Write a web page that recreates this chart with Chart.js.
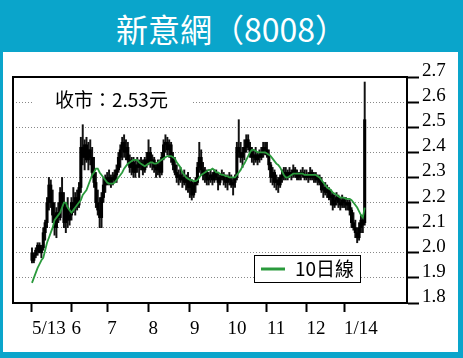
<!DOCTYPE html>
<html><head><meta charset="utf-8">
<script src="https://cdn.jsdelivr.net/npm/chart.js@4"></script>
<style>
html,body{margin:0;padding:0;}
body{width:463px;height:358px;background:#0aa5cb;position:relative;overflow:hidden;}
#panel{position:absolute;left:3px;top:52px;width:455px;height:300px;background:#fff;}
#title{position:absolute;left:0;top:6px;width:463px;text-align:center;color:#fff;font-size:32px;font-family:"Noto Sans CJK TC","Noto Sans";line-height:44px;}
canvas{position:absolute;left:0;top:0;}
</style></head><body>
<div id="panel"></div><div id="title">新意網（8008）</div>
<canvas id="c" width="463" height="358"></canvas>
<script>
// trading-day index 0 = early May 2013
const monthTickIdx = [0,21,40,62,84,104,125,146,166];
const monthLabels = ['5/13','6','7','8','9','10','11','12','1/14'];
const yTickVals = [1.8,1.9,2.0,2.1,2.2,2.3,2.4,2.5,2.6,2.7];
const closeLabel = '收市：2.53元';
const legendLabel = '10日線';

const open = [
2.00,1.97,1.99,2.01,2.03,2.00,2.02,2.08,2.12,2.20,2.27,2.20,2.15,2.10,2.16,2.14,2.24,2.20,2.12,2.18,2.13,
2.15,2.20,2.18,2.22,2.19,2.26,2.42,2.38,2.43,2.37,2.41,2.38,2.32,2.28,2.20,2.17,2.14,2.22,2.27,
2.29,2.30,2.28,2.30,2.29,2.31,2.33,2.38,2.41,2.44,2.40,2.42,2.37,2.34,2.36,2.32,2.35,2.34,2.36,2.35,2.33,2.37,
2.36,2.40,2.36,2.37,2.34,2.33,2.35,2.32,2.38,2.43,2.44,2.41,2.43,2.38,2.35,2.32,2.30,2.31,2.29,2.30,2.28,2.29,
2.26,2.28,2.23,2.27,2.28,2.34,2.38,2.33,2.31,2.32,2.29,2.30,2.31,2.29,2.32,2.30,2.28,2.30,2.31,2.29,
2.28,2.30,2.29,2.27,2.28,2.30,2.42,2.40,2.38,2.40,2.42,2.45,2.42,2.40,2.38,2.39,2.37,2.39,2.38,2.40,2.42,
2.41,2.39,2.35,2.30,2.32,2.28,2.29,2.27,2.30,2.31,2.32,2.30,2.32,2.31,2.32,2.33,2.31,2.30,2.31,2.32,2.31,
2.30,2.31,2.30,2.32,2.30,2.31,2.29,2.30,2.28,2.25,2.26,2.24,2.25,2.22,2.23,2.19,2.21,2.22,2.20,2.19,
2.21,2.20,2.19,2.20,2.17,2.12,2.10,2.08,2.06,2.10,2.13,2.12];
const high = [
2.02,2.00,2.02,2.04,2.04,2.03,2.10,2.13,2.22,2.30,2.29,2.25,2.20,2.18,2.20,2.26,2.30,2.24,2.20,2.22,2.17,
2.22,2.26,2.24,2.25,2.28,2.46,2.51,2.45,2.46,2.44,2.45,2.42,2.38,2.32,2.25,2.22,2.24,2.30,2.31,
2.32,2.33,2.31,2.32,2.33,2.35,2.40,2.43,2.46,2.47,2.45,2.44,2.39,2.38,2.38,2.37,2.38,2.37,2.38,2.37,2.38,2.40,
2.45,2.42,2.39,2.38,2.36,2.37,2.37,2.40,2.45,2.47,2.46,2.45,2.44,2.40,2.38,2.35,2.33,2.34,2.32,2.33,2.31,2.32,
2.30,2.29,2.28,2.30,2.36,2.44,2.41,2.36,2.34,2.33,2.32,2.33,2.32,2.33,2.33,2.32,2.31,2.33,2.32,2.31,
2.31,2.32,2.31,2.30,2.31,2.44,2.53,2.44,2.42,2.45,2.47,2.47,2.44,2.42,2.41,2.42,2.40,2.41,2.42,2.44,2.44,
2.44,2.41,2.36,2.34,2.33,2.31,2.30,2.31,2.33,2.34,2.34,2.33,2.34,2.33,2.35,2.34,2.33,2.32,2.33,2.34,2.33,
2.33,2.32,2.34,2.33,2.32,2.32,2.31,2.31,2.30,2.28,2.28,2.27,2.26,2.25,2.24,2.23,2.24,2.23,2.22,2.23,
2.22,2.22,2.21,2.21,2.18,2.16,2.13,2.10,2.12,2.15,2.15,2.68];
const low = [
1.96,1.96,1.98,1.99,2.00,1.98,2.01,2.05,2.10,2.17,2.18,2.12,2.07,2.06,2.12,2.13,2.18,2.10,2.08,2.10,2.11,
2.13,2.16,2.15,2.17,2.18,2.24,2.35,2.33,2.36,2.33,2.35,2.30,2.26,2.18,2.15,2.10,2.10,2.20,2.24,
2.27,2.27,2.26,2.27,2.28,2.28,2.32,2.34,2.37,2.38,2.37,2.35,2.32,2.31,2.30,2.30,2.32,2.30,2.33,2.31,2.32,2.34,
2.35,2.34,2.33,2.32,2.30,2.31,2.30,2.31,2.37,2.40,2.39,2.38,2.36,2.33,2.31,2.28,2.27,2.28,2.26,2.27,2.25,2.24,
2.22,2.21,2.22,2.24,2.27,2.32,2.31,2.29,2.28,2.27,2.27,2.28,2.27,2.28,2.29,2.25,2.27,2.29,2.27,2.26,
2.25,2.27,2.26,2.23,2.26,2.29,2.38,2.36,2.34,2.37,2.40,2.41,2.38,2.36,2.35,2.36,2.35,2.36,2.37,2.38,2.39,
2.38,2.33,2.28,2.27,2.26,2.25,2.24,2.26,2.28,2.29,2.29,2.29,2.30,2.29,2.30,2.30,2.29,2.29,2.29,2.30,2.29,
2.29,2.28,2.29,2.29,2.28,2.28,2.27,2.27,2.24,2.22,2.23,2.22,2.21,2.19,2.17,2.18,2.19,2.18,2.17,2.18,
2.18,2.17,2.17,2.15,2.10,2.09,2.06,2.04,2.05,2.08,2.08,2.11];
const close = [
1.97,1.99,2.01,2.03,2.00,2.02,2.08,2.12,2.20,2.27,2.20,2.15,2.10,2.16,2.14,2.24,2.20,2.12,2.18,2.13,2.15,
2.20,2.18,2.22,2.19,2.26,2.42,2.38,2.43,2.37,2.41,2.38,2.32,2.28,2.20,2.17,2.14,2.22,2.27,2.29,
2.30,2.28,2.30,2.29,2.31,2.33,2.38,2.41,2.44,2.40,2.42,2.37,2.34,2.36,2.32,2.35,2.34,2.36,2.35,2.33,2.37,2.36,
2.40,2.36,2.37,2.34,2.33,2.35,2.32,2.38,2.43,2.44,2.41,2.43,2.38,2.35,2.32,2.30,2.31,2.29,2.30,2.28,2.29,2.26,
2.28,2.23,2.27,2.28,2.34,2.38,2.33,2.31,2.32,2.29,2.30,2.31,2.29,2.32,2.30,2.28,2.30,2.31,2.29,2.28,
2.30,2.29,2.27,2.28,2.30,2.42,2.40,2.38,2.40,2.42,2.45,2.42,2.40,2.38,2.39,2.37,2.39,2.38,2.40,2.42,2.41,
2.39,2.35,2.30,2.32,2.28,2.29,2.27,2.30,2.31,2.32,2.30,2.32,2.31,2.32,2.33,2.31,2.30,2.31,2.32,2.31,2.30,
2.31,2.30,2.32,2.30,2.31,2.29,2.30,2.28,2.25,2.26,2.24,2.25,2.22,2.23,2.19,2.21,2.22,2.20,2.19,2.21,
2.20,2.19,2.20,2.17,2.12,2.10,2.08,2.06,2.10,2.13,2.11,2.53];
const ma10 = [
1.88,1.90,1.92,1.94,1.955,1.97,1.98,2.01,2.04,2.06,2.08,2.10,2.13,2.14,2.15,2.16,2.18,2.20,2.20,2.18,2.17,
2.16,2.17,2.18,2.19,2.20,2.21,2.23,2.24,2.25,2.27,2.29,2.31,2.32,2.335,2.335,2.32,2.31,2.30,2.29,
2.28,2.275,2.275,2.275,2.28,2.29,2.30,2.31,2.32,2.335,2.345,2.355,2.36,2.365,2.37,2.37,2.37,2.36,2.355,2.35,2.345,2.35,
2.355,2.36,2.36,2.355,2.355,2.36,2.365,2.37,2.375,2.38,2.385,2.385,2.385,2.38,2.375,2.36,2.35,2.34,2.32,2.31,2.30,2.295,
2.29,2.29,2.285,2.285,2.29,2.30,2.31,2.315,2.32,2.325,2.33,2.33,2.335,2.33,2.32,2.32,2.315,2.31,2.31,2.305,
2.305,2.30,2.30,2.30,2.30,2.31,2.32,2.33,2.345,2.355,2.37,2.385,2.40,2.41,2.41,2.405,2.40,2.40,2.40,2.40,2.40,
2.395,2.39,2.385,2.375,2.365,2.355,2.35,2.34,2.325,2.31,2.30,2.30,2.305,2.31,2.315,2.315,2.315,2.315,2.315,2.315,2.31,
2.31,2.31,2.31,2.31,2.31,2.31,2.305,2.30,2.29,2.28,2.27,2.26,2.255,2.25,2.24,2.235,2.23,2.225,2.22,2.22,
2.22,2.215,2.215,2.215,2.21,2.20,2.19,2.18,2.165,2.15,2.14,2.18];

const GREEN = '#2a9a3c';

const decor = {
  id: 'decor',
  beforeDatasetsDraw(chart) {
    const ctx = chart.ctx;
    ctx.save();
    ctx.fillStyle = '#fff';
    ctx.fillRect(33, 89, 160, 24);
    ctx.fillStyle = '#000';
    ctx.font = '19px "Noto Sans CJK TC"';
    ctx.textBaseline = 'middle';
    ctx.textAlign = 'left';
    ctx.fillText(closeLabel, 55, 100);
    ctx.restore();
  },
  afterDatasetsDraw(chart) {
    const ctx = chart.ctx;
    ctx.save();
    ctx.fillStyle = '#fff';
    ctx.fillRect(254, 255, 106, 27);
    ctx.strokeStyle = '#000';
    ctx.lineWidth = 1;
    ctx.strokeRect(254.5, 255.5, 106, 27);
    ctx.strokeStyle = GREEN;
    ctx.lineWidth = 3;
    ctx.beginPath();
    ctx.moveTo(261, 269);
    ctx.lineTo(285, 269);
    ctx.stroke();
    ctx.fillStyle = '#000';
    ctx.font = '19px "Noto Sans CJK TC"';
    ctx.textBaseline = 'middle';
    ctx.fillText(legendLabel, 295, 269);
    ctx.restore();
  },
  afterDraw(chart) {
    const ctx = chart.ctx, a = chart.chartArea;
    ctx.save();
    ctx.strokeStyle = '#000';
    ctx.lineWidth = 2;
    ctx.beginPath();
    ctx.moveTo(a.left, a.bottom);
    ctx.lineTo(a.left, a.top);
    ctx.lineTo(a.right, a.top);
    ctx.stroke();
    ctx.restore();
  }
};

new Chart(document.getElementById('c'), {
  type: 'bar',
  data: {
    datasets: [
      { type: 'line', data: ma10.map((v, i) => ({x: i, y: v})), borderColor: GREEN, borderWidth: 1.8,
        pointRadius: 0, fill: false, order: 0 },
      { type: 'bar', data: high.map((h, i) => ({x: i, y: [low[i], h]})), backgroundColor: '#111',
        barThickness: 1.3, grouped: false, order: 2 },
      { type: 'bar', data: open.map((o, i) => ({x: i, y: [o, close[i]]})), backgroundColor: '#000',
        barThickness: 2.4, grouped: false, order: 1, minBarLength: 1 }
    ]
  },
  options: {
    responsive: false, animation: false, devicePixelRatio: 1,
    layout: { padding: { left: 13, top: 77, right: 0, bottom: 0 } },
    plugins: { legend: { display: false }, tooltip: { enabled: false } },
    scales: {
      x: {
        type: 'linear', min: -10.1, max: 199.5, offset: false,
        afterBuildTicks: a => { a.ticks = monthTickIdx.map(v => ({value: v})); },
        afterFit: s => { s.height = 55; },
        grid: { display: true, drawOnChartArea: false, drawTicks: true, tickLength: 9,
                tickColor: '#000', tickWidth: 2, offset: false },
        border: { display: true, color: '#000', width: 2 },
        ticks: { autoSkip: false, maxRotation: 0, minRotation: 0, align: 'start', padding: 6, color: '#000',
                 font: { family: '"Liberation Serif"', size: 19 },
                 callback: (v, i) => monthLabels[i] }
      },
      y: {
        type: 'linear', position: 'right', min: 1.8, max: 2.7,
        afterBuildTicks: a => { a.ticks = yTickVals.map(v => ({value: v})); },
        afterFit: s => { s.width = 56; },
        grid: { color: '#888', lineWidth: 1, tickLength: 12, tickColor: '#000', tickWidth: 2, tickBorderDash: [] },
        border: { display: true, color: '#000', width: 2, dash: [1, 2] },
        ticks: { autoSkip: false, padding: 3, labelOffset: -6, color: '#000',
                 font: { family: '"Liberation Serif"', size: 19 },
                 callback: v => v.toFixed(1) }
      }
    }
  },
  plugins: [decor]
});
</script></body></html>
